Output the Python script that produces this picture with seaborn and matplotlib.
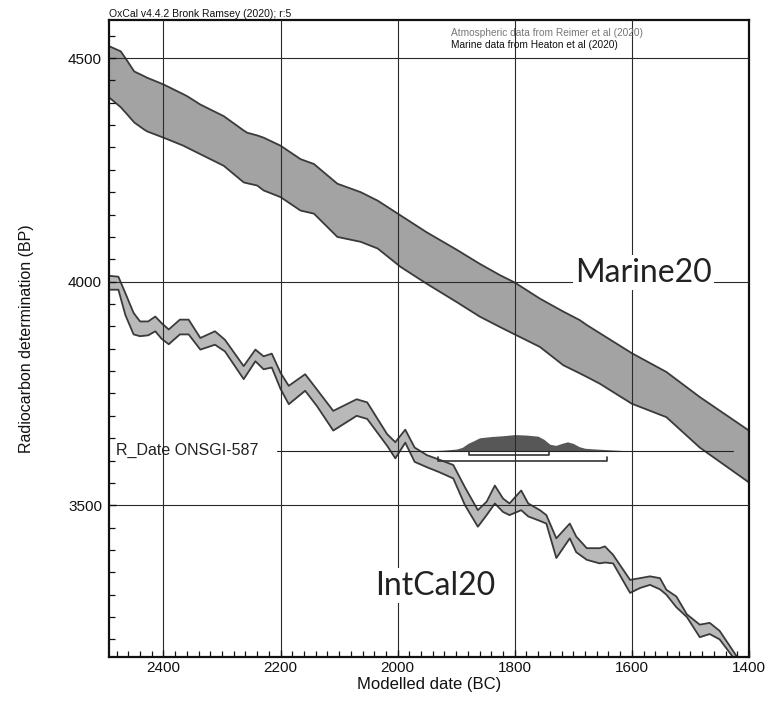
import matplotlib
matplotlib.use("Agg")
import matplotlib.pyplot as plt
from matplotlib.ticker import MultipleLocator
import seaborn as sns
import pandas as pd

# IntCal20 calibration band (years BC, radiocarbon BP)
intcal_bc = [2492, 2477, 2465, 2451, 2440, 2426, 2414, 2403, 2391, 2372, 2357, 2337, 2312,
             2295, 2263, 2243, 2229, 2215, 2200, 2186, 2158, 2138, 2110, 2070, 2052, 2018,
             2004, 1987, 1971, 1950, 1929, 1905, 1885, 1863, 1848, 1834, 1820, 1809, 1789,
             1777, 1757, 1746, 1729, 1706, 1695, 1677, 1655, 1646, 1632, 1603, 1586, 1569,
             1552, 1541, 1524, 1506, 1484, 1467, 1450, 1427, 1400]
intcal_hi = [4013, 4011, 3974, 3930, 3911, 3911, 3922, 3907, 3893, 3915, 3915, 3874, 3889,
             3870, 3811, 3848, 3833, 3839, 3796, 3767, 3793, 3759, 3711, 3737, 3730, 3659,
             3641, 3669, 3629, 3612, 3602, 3590, 3540, 3489, 3508, 3544, 3515, 3504, 3533,
             3504, 3489, 3478, 3426, 3459, 3430, 3404, 3404, 3408, 3389, 3333, 3337, 3341,
             3337, 3311, 3296, 3256, 3233, 3237, 3219, 3174, 3120]
intcal_lo = [3982, 3982, 3925, 3882, 3878, 3880, 3889, 3872, 3860, 3882, 3882, 3848, 3859,
             3844, 3782, 3822, 3804, 3808, 3760, 3726, 3756, 3722, 3667, 3700, 3693, 3633,
             3605, 3640, 3597, 3585, 3574, 3560, 3500, 3452, 3478, 3504, 3485, 3478, 3489,
             3475, 3465, 3459, 3382, 3426, 3395, 3378, 3370, 3372, 3370, 3304, 3315, 3322,
             3312, 3300, 3272, 3250, 3205, 3212, 3200, 3160, 3100]

# Marine20 calibration band
marine_bc = [2492, 2473, 2462, 2450, 2434, 2428, 2400, 2366, 2360, 2337, 2297, 2263, 2257,
             2240, 2229, 2200, 2166, 2143, 2103, 2063, 2034, 1995, 1950, 1900, 1860, 1826,
             1800, 1757, 1717, 1689, 1677, 1655, 1600, 1541, 1484, 1400]
marine_hi = [4526, 4515, 4494, 4470, 4460, 4456, 4441, 4419, 4415, 4396, 4370, 4338, 4333,
             4327, 4322, 4304, 4274, 4263, 4219, 4200, 4181, 4148, 4110, 4072, 4040, 4015,
             3998, 3962, 3933, 3914, 3903, 3885, 3840, 3798, 3742, 3667]
marine_lo = [4411, 4390, 4374, 4356, 4341, 4336, 4322, 4304, 4300, 4285, 4259, 4222, 4220,
             4215, 4204, 4189, 4159, 4152, 4100, 4089, 4074, 4033, 3995, 3955, 3922, 3899,
             3882, 3854, 3813, 3795, 3787, 3772, 3727, 3697, 3629, 3551]

# R_Date ONSGI-587
rdate_name = "R_Date ONSGI-587"
rdate_bp = 3622
rdate_bc = [1945, 1920, 1900, 1890, 1880, 1870, 1860, 1840, 1820, 1800, 1780, 1760, 1750,
            1740, 1730, 1720, 1710, 1700, 1690, 1680, 1660, 1640, 1620, 1610]
rdate_prob = [0, 0.04, 0.1, 0.2, 0.45, 0.62, 0.8, 0.88, 0.93, 1.0, 0.97, 0.9, 0.7,
              0.4, 0.33, 0.45, 0.55, 0.45, 0.25, 0.15, 0.1, 0.06, 0.02, 0]
range_68 = [1878, 1741]
range_95 = [1931, 1642]

x_ticks = [2400, 2200, 2000, 1800, 1600, 1400]
y_ticks = [3500, 4000, 4500]

intcal = pd.DataFrame({"bc": intcal_bc, "hi": intcal_hi, "lo": intcal_lo})
marine = pd.DataFrame({"bc": marine_bc, "hi": marine_hi, "lo": marine_lo})
rdate = pd.DataFrame({"bc": rdate_bc, "p": rdate_prob})

sns.set_theme(style="white")
plt.rcParams["font.family"] = ["Liberation Sans", "DejaVu Sans"]

fig = plt.figure(figsize=(7.71, 7.15), dpi=100)
ax = fig.add_axes([0.1414, 0.0807, 0.8300, 0.8913])

edge = "#3a3a3a"
# bands
ax.fill_between(marine["bc"], marine["lo"], marine["hi"], color="#a3a3a3", lw=0, zorder=1)
ax.fill_between(intcal["bc"], intcal["lo"], intcal["hi"], color="#b9b9b9", lw=0, zorder=1)
for df in (marine, intcal):
    for col in ("hi", "lo"):
        sns.lineplot(data=df, x="bc", y=col, ax=ax, color=edge, lw=1.3,
                     estimator=None, sort=False, zorder=2,
                     solid_joinstyle="round", solid_capstyle="round")

# R_Date distribution
h = 36
ax.fill_between(rdate["bc"], rdate_bp, rdate_bp + rdate["p"] * h,
                color="#575757", lw=0, zorder=2)
ax.plot([2206, 1427], [rdate_bp, rdate_bp], color="#222222", lw=0.8, zorder=2)
ax.text(2481, rdate_bp, rdate_name, fontsize=11.5, va="center", ha="left",
        color="#222222", zorder=3)
for rng, off in ((range_68, 9), (range_95, 22)):
    yb = rdate_bp - off
    ax.plot([rng[0], rng[0], rng[1], rng[1]], [yb + 7, yb, yb, yb + 7],
            color="#333333", lw=1.2, zorder=2)

# curve labels
ax.text(1697, 4000, "Marine20", fontsize=23, family=["Lato", "DejaVu Sans"],
        va="baseline", ha="left", color="#222222", zorder=4,
        bbox=dict(facecolor="white", edgecolor="none", pad=1.5))
ax.text(2038, 3300, "IntCal20", fontsize=23, family=["Lato", "DejaVu Sans"],
        va="baseline", ha="left", color="#222222", zorder=4,
        bbox=dict(facecolor="white", edgecolor="none", pad=1.5))

# axes
ax.set_xlim(2493, 1400)
ax.set_ylim(3160, 4585)
ax.set_xticks(x_ticks)
ax.set_yticks(y_ticks)
ax.xaxis.set_minor_locator(MultipleLocator(20))
ax.yaxis.set_minor_locator(MultipleLocator(50))
ax.tick_params(axis="both", which="both", direction="in", bottom=True, left=True,
               top=False, right=False, labelsize=11, colors="#111111")
ax.tick_params(which="major", length=5, width=1)
ax.tick_params(which="minor", length=4.5, width=0.9)
ax.tick_params(axis="x", pad=3)
ax.tick_params(axis="y", pad=5)
ax.grid(True, which="major", color="#2a2a2a", lw=0.8)
ax.set_axisbelow(False)
for s in ax.spines.values():
    s.set_color("#111111")
    s.set_linewidth(1.6)

ax.set_xlabel("Modelled date (BC)", fontsize=12, color="#111111")
ax.set_ylabel("Radiocarbon determination (BP)", fontsize=11.5, color="#111111")
ax.xaxis.set_label_coords(0.5, -0.031)
ax.yaxis.set_label_coords(-0.117, 0.5)

ax.text(0.0, 1.002, "OxCal v4.4.2 Bronk Ramsey (2020); r:5", transform=ax.transAxes,
        fontsize=7.5, va="bottom", ha="left", color="#111111")
ax.text(0.534, 0.979, "Atmospheric data from Reimer et al (2020)", transform=ax.transAxes,
        fontsize=7.3, va="center", ha="left", color="#777777")
ax.text(0.534, 0.961, "Marine data from Heaton et al (2020)", transform=ax.transAxes,
        fontsize=7.3, va="center", ha="left", color="#111111")

fig.savefig("out.png", dpi=100)
